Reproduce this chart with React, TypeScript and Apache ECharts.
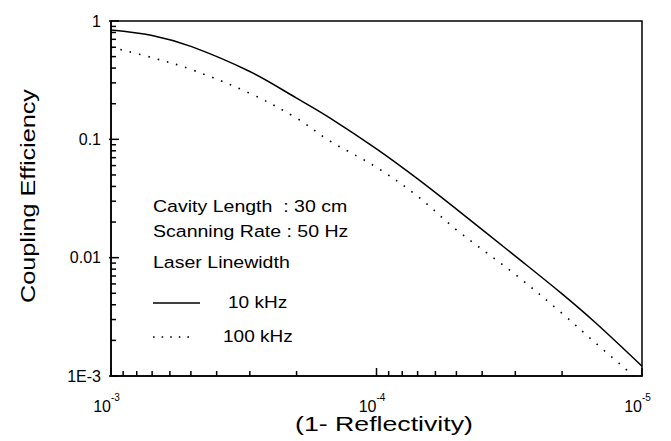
import React, { useEffect, useRef } from "react";
import * as echarts from "echarts";

// (1 - Reflectivity) sample points
const reflectivity = [1e-3, 7e-4, 5e-4, 3e-4, 2e-4, 1.5e-4, 1e-4, 7e-5, 5e-5, 3e-5, 2e-5, 1.5e-5, 1e-5];
// Coupling efficiency, laser linewidth 10 kHz (solid)
const eff10kHz = [0.84, 0.755, 0.61, 0.374, 0.223, 0.152, 0.083, 0.0463, 0.0257, 0.0103, 0.00494, 0.00283, 0.00121];
// Coupling efficiency, laser linewidth 100 kHz (dotted)
const eff100kHz = [0.6, 0.49, 0.39, 0.245, 0.151, 0.097, 0.058, 0.033, 0.0172, 0.0072, 0.00338, 0.00191, 0.00087];

const yTickLabels: Record<string, string> = { "0": "1", "-1": "0.1", "-2": "0.01", "-3": "1E-3" };
const xDecades = [-3, -4, -5];
const yDecades = [-3, -2, -1, 0];

const legendLines = ["Cavity Length  : 30 cm", "Scanning Rate : 50 Hz", "Laser Linewidth"];
const seriesNames = ["10 kHz", "100 kHz"];

const FONT = "'Liberation Sans', Arial, Helvetica, sans-serif";
const TICK_COLOR = "#000";

export default function App() {
  const ref = useRef<HTMLDivElement>(null);
  useEffect(() => {
    if (!ref.current) return;
    const chart = echarts.init(ref.current, undefined, { renderer: "svg" });

    const sx = 1.15;
    const texts: any[] = [
      {
        type: "text", x: 28, y: 196, rotation: Math.PI / 2, scaleX: 1.2,
        style: { text: "Coupling Efficiency", fontSize: 21, fontFamily: FONT, fill: "#000", textAlign: "center", textVerticalAlign: "middle" },
      },
      {
        type: "text", x: 384, y: 424, scaleX: 1.27,
        style: { text: "(1- Reflectivity)", fontSize: 21, fontFamily: FONT, fill: "#000", textAlign: "center", textVerticalAlign: "middle" },
      },
      {
        type: "text", x: 153, y: 206, scaleX: sx,
        style: { text: legendLines[0], fontSize: 17, fontFamily: FONT, fill: "#000", textAlign: "left", textVerticalAlign: "middle" },
      },
      {
        type: "text", x: 153, y: 231, scaleX: sx,
        style: { text: legendLines[1], fontSize: 17, fontFamily: FONT, fill: "#000", textAlign: "left", textVerticalAlign: "middle" },
      },
      {
        type: "text", x: 153, y: 262, scaleX: sx,
        style: { text: legendLines[2], fontSize: 17, fontFamily: FONT, fill: "#000", textAlign: "left", textVerticalAlign: "middle" },
      },
      { type: "line", shape: { x1: 153, y1: 303, x2: 200, y2: 303 }, style: { stroke: "#000", lineWidth: 1.5 } },
      {
        type: "text", x: 228, y: 302.5, scaleX: 1.12,
        style: { text: seriesNames[0], fontSize: 17, fontFamily: FONT, fill: "#000", textAlign: "left", textVerticalAlign: "middle" },
      },
      { type: "line", shape: { x1: 153, y1: 337, x2: 190, y2: 337 }, style: { stroke: "#000", lineWidth: 1.6, lineDash: [1.6, 7] } },
      {
        type: "text", x: 223, y: 336, scaleX: 1.12,
        style: { text: seriesNames[1], fontSize: 17, fontFamily: FONT, fill: "#000", textAlign: "left", textVerticalAlign: "middle" },
      },
    ];

    const option: any = {
      animation: false,
      backgroundColor: "#fff",
      grid: { left: 111, right: 29, top: 21, bottom: 65, show: true, borderColor: "#000", borderWidth: 1.5 },
      xAxis: {
        type: "log", logBase: 10, min: 1e-5, max: 1e-3, inverse: true,
        axisLine: { show: true, lineStyle: { color: "#000", width: 1.5 } },
        axisTick: { show: false },
        splitLine: { show: false },
        axisLabel: {
          margin: 16,
          padding: [0, 9, 0, 0],
          formatter: (v: number) => {
            const e = Math.round(Math.log10(v));
            return xDecades.includes(e) ? `{b|10}{s|${e}}` : "";
          },
          rich: {
            b: { fontSize: 16, fontFamily: FONT, color: "#000", lineHeight: 22, verticalAlign: "bottom" },
            s: { fontSize: 10, fontFamily: FONT, color: "#000", lineHeight: 14, verticalAlign: "top" },
          },
        },
      },
      yAxis: {
        type: "log", logBase: 10, min: 1e-3, max: 1,
        axisLine: { show: true, lineStyle: { color: "#000", width: 1.5 } },
        axisTick: { show: false },
        splitLine: { show: false },
        axisLabel: {
          margin: 10, fontSize: 16, fontFamily: FONT, color: "#000",
          formatter: (v: number) => yTickLabels[String(Math.round(Math.log10(v)))] ?? "",
        },
      },
      series: [
        {
          name: seriesNames[0], type: "line",
          data: reflectivity.map((x, i) => [x, eff10kHz[i]]),
          showSymbol: false, smooth: 0.35,
          lineStyle: { color: "#000", width: 1.5 },
        },
        {
          name: seriesNames[1], type: "line",
          data: reflectivity.map((x, i) => [x, eff100kHz[i]]),
          showSymbol: false, smooth: 0.35,
          lineStyle: { color: "#000", width: 1.6, type: [1.6, 8] },
        },
      ],
      graphic: texts,
    };
    chart.setOption(option);

    // Tick marks placed through the chart's own log scales
    const tickStyle = { stroke: TICK_COLOR, lineWidth: 1.5 };
    const ticks: any[] = [];
    yDecades.forEach((d) => {
      const base = Math.pow(10, d);
      const p = chart.convertToPixel({ gridIndex: 0 }, [1e-3, base]) as number[];
      ticks.push({ type: "line", silent: true, z: 100, shape: { x1: p[0] - 2, y1: p[1], x2: p[0] + 8, y2: p[1] }, style: tickStyle });
      if (d < 0) {
        for (let k = 2; k <= 9; k++) {
          const q = chart.convertToPixel({ gridIndex: 0 }, [1e-3, k * base]) as number[];
          ticks.push({ type: "line", silent: true, z: 100, shape: { x1: q[0], y1: q[1], x2: q[0] + 5, y2: q[1] }, style: tickStyle });
        }
      }
    });
    [-5, -4, -3].forEach((d) => {
      const base = Math.pow(10, d);
      const p = chart.convertToPixel({ gridIndex: 0 }, [base, 1e-3]) as number[];
      ticks.push({ type: "line", silent: true, z: 100, shape: { x1: p[0], y1: p[1], x2: p[0], y2: p[1] - 8 }, style: tickStyle });
      if (d < -3) {
        for (let k = 2; k <= 9; k++) {
          const q = chart.convertToPixel({ gridIndex: 0 }, [k * base, 1e-3]) as number[];
          ticks.push({ type: "line", silent: true, z: 100, shape: { x1: q[0], y1: q[1], x2: q[0], y2: q[1] - 5 }, style: tickStyle });
        }
      }
    });
    chart.setOption({ graphic: [...texts, ...ticks] });
    return () => chart.dispose();
  }, []);
  return <div ref={ref} style={{ position: "fixed", left: 0, top: 0, width: 671, height: 441, background: "#fff" }} />;
}
